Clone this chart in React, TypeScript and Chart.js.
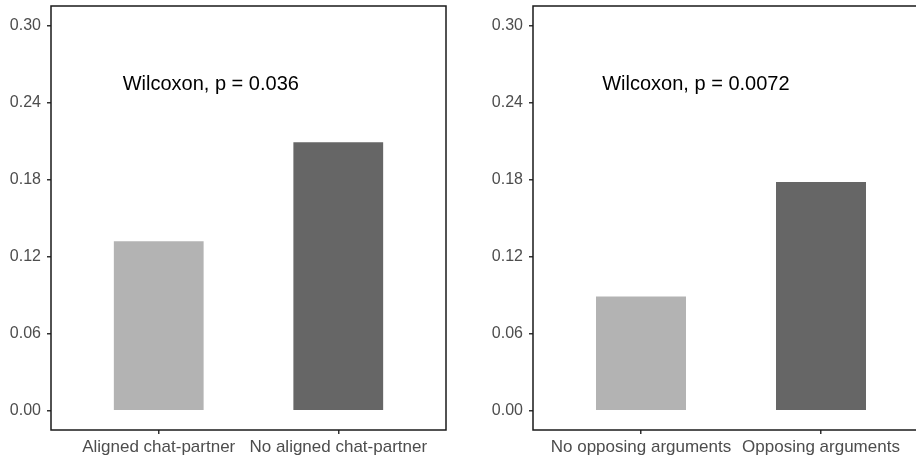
import React, { useEffect, useRef } from "react";
import { Chart, registerables } from "chart.js";

Chart.register(...registerables);

const leftCategories = ["Aligned chat-partner", "No aligned chat-partner"];
const leftValues = [0.132, 0.209];
const leftAnnotation = "Wilcoxon, p = 0.036";
const leftAnnotationX = 0.29;

const rightCategories = ["No opposing arguments", "Opposing arguments"];
const rightValues = [0.089, 0.178];
const rightAnnotation = "Wilcoxon, p = 0.0072";
const rightAnnotationX = 0.305;

const annotationY = 0.25;
const yTicks = [0, 0.06, 0.12, 0.18, 0.24, 0.3];
const barColors = ["#B3B3B3", "#666666"];

const FONT = "'Liberation Sans', Arial, sans-serif";

type PanelProps = {
  categories: string[];
  values: number[];
  annotation: string;
  annotationX: number;
  width: number;
  axisWidth: number;
  padRight: number;
};

function Panel({ categories, values, annotation, annotationX, width, axisWidth, padRight }: PanelProps) {
  const ref = useRef<HTMLCanvasElement | null>(null);
  useEffect(() => {
    if (!ref.current) return;
    const annPlugin = {
      id: "ann",
      afterDatasetsDraw(chart: any) {
        const { ctx, chartArea, scales } = chart;
        ctx.save();
        ctx.strokeStyle = "#1a1a1a";
        ctx.lineWidth = 1.5;
        ctx.strokeRect(chartArea.left, chartArea.top, chartArea.right - chartArea.left, chartArea.bottom - chartArea.top);
        ctx.fillStyle = "#000000";
        ctx.font = `20px ${FONT}`;
        ctx.textAlign = "center";
        ctx.textBaseline = "alphabetic";
        ctx.fillText(annotation, scales.x.getPixelForValue(annotationX), scales.y.getPixelForValue(annotationY));
        ctx.restore();
      },
    };
    const chart = new Chart(ref.current, {
      type: "bar",
      data: {
        datasets: [
          {
            data: values.map((v, i) => ({ x: i, y: v })),
            backgroundColor: barColors,
            borderWidth: 0,
            barPercentage: 0.5,
            categoryPercentage: 1,
          },
        ],
      },
      options: {
        animation: false,
        responsive: false,
        maintainAspectRatio: false,
        layout: { padding: { left: 0, right: padRight, top: 6, bottom: 0 } },
        plugins: { legend: { display: false }, tooltip: { enabled: false } },
        scales: {
          x: {
            type: "linear",
            offset: false,
            min: -0.6,
            max: 1.6,
            afterBuildTicks: (s: any) => {
              s.ticks = categories.map((_, i) => ({ value: i }));
            },
            afterFit: (s: any) => {
              s.height = 29;
              s.paddingLeft = 0;
              s.paddingRight = 0;
            },
            border: { display: false },
            grid: { display: true, offset: false, drawOnChartArea: false, drawTicks: true, tickLength: 4, tickColor: "#333333", lineWidth: 1.5 },
            ticks: {
              autoSkip: false,
              maxRotation: 0,
              padding: 3,
              color: "#4D4D4D",
              font: { family: FONT, size: 17 },
              callback: (v: any) => categories[Math.round(Number(v))] ?? "",
            },
          },
          y: {
            type: "linear",
            min: -0.015,
            max: 0.315,
            afterBuildTicks: (s: any) => {
              s.ticks = yTicks.map((v) => ({ value: v }));
            },
            afterFit: (s: any) => {
              s.width = axisWidth;
              s.paddingTop = 0;
              s.paddingBottom = 0;
            },
            border: { display: false },
            grid: { display: true, drawOnChartArea: false, drawTicks: true, tickLength: 4, tickColor: "#333333", lineWidth: 1.5 },
            ticks: {
              padding: 6,
              color: "#4D4D4D",
              font: { family: FONT, size: 16 },
              callback: (v: any) => Number(v).toFixed(2),
            },
          },
        },
      },
      plugins: [annPlugin],
    } as any);
    return () => chart.destroy();
  }, []);
  return <canvas ref={ref} width={width} height={459} style={{ display: "block", width, height: 459 }} />;
}

export default function App() {
  return (
    <div style={{ position: "fixed", left: 0, top: 0, width: 916, height: 459, overflow: "hidden", background: "#fff" }}>
      <div style={{ position: "absolute", left: 0, top: 0 }}>
        <Panel
          categories={leftCategories}
          values={leftValues}
          annotation={leftAnnotation}
          annotationX={leftAnnotationX}
          width={480}
          axisWidth={51}
          padRight={34}
        />
      </div>
      <div style={{ position: "absolute", left: 480, top: 0 }}>
        <Panel
          categories={rightCategories}
          values={rightValues}
          annotation={rightAnnotation}
          annotationX={rightAnnotationX}
          width={480}
          axisWidth={53}
          padRight={31}
        />
      </div>
    </div>
  );
}
